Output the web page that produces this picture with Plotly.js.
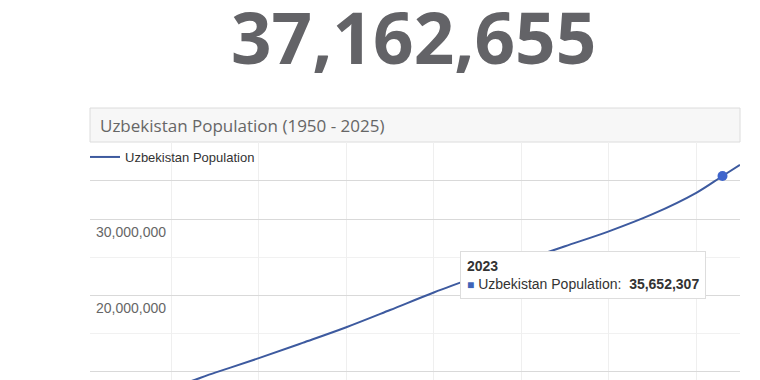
<!DOCTYPE html>
<html>
<head>
<meta charset="utf-8">
<script src="https://cdn.plot.ly/plotly-3.0.1.min.js"></script>
<style>
html,body{margin:0;padding:0;background:#fff;overflow:hidden;}
#wrap{width:760px;height:380px;overflow:hidden;position:relative;}
#chart{width:760px;height:420px;}
</style>
</head>
<body>
<div id="wrap"><div id="chart"></div></div>
<script>
// Data
const seriesName = "Uzbekistan Population";
const years = [1950, 1955, 1960, 1965, 1970, 1975, 1980, 1985, 1990, 1995, 2000, 2005, 2010, 2015, 2020, 2023, 2025];
const population = [6300000, 7100000, 8000000, 9900000, 11800000, 13800000, 15850000, 18100000, 20400000, 22500000, 24500000, 26450000, 28400000, 30650000, 33450000, 35652307, 37100000];
const highlightYear = [2023];
const highlightValue = [35652307];
const bigNumber = "37,162,655";
const chartTitle = "Uzbekistan Population (1950 - 2025)";
const yTickVals = [10000000, 20000000, 30000000, 35000000];
const yTickText = ["10,000,000", "20,000,000", "30,000,000", ""];
const yMinorVals = [15000000, 25000000];

const fmt = v => v.toLocaleString('en-US');

const traces = [
  {
    x: years, y: population, type: 'scatter', mode: 'lines', name: seriesName,
    line: {color: '#3d5a9f', width: 2, shape: 'spline', smoothing: 1},
    showlegend: true
  },
  {
    x: highlightYear, y: highlightValue, type: 'scatter', mode: 'markers',
    marker: {color: '#3e64cc', size: 10}, showlegend: false
  }
];

const layout = {
  width: 760, height: 420,
  margin: {l: 90, r: 20, t: 142, b: 0, pad: 0, autoexpand: false},
  paper_bgcolor: '#fff', plot_bgcolor: '#fff',
  font: {family: 'Liberation Sans, Arial, sans-serif', color: '#666', size: 13},
  title: {
    text: chartTitle, xref: 'container', yref: 'container',
    x: 100/760, xanchor: 'left', y: 1 - 126/420, yanchor: 'middle',
    font: {family: 'Open Sans, sans-serif', size: 17, color: '#666'}
  },
  xaxis: {
    range: [1950.7, 2025], tickmode: 'linear', tick0: 1960, dtick: 10,
    showticklabels: false, showgrid: true, gridcolor: '#efefef', gridwidth: 1,
    zeroline: false, showline: false, ticks: '', automargin: false
  },
  yaxis: {
    range: [3700000, 40100000], tickmode: 'array', tickvals: yTickVals, ticktext: yTickText,
    showgrid: true, gridcolor: '#d9d9d9', gridwidth: 1, zeroline: false, showline: false,
    ticklabelposition: 'inside', ticklabelshift: 13, ticklabelstandoff: 3,
    tickfont: {size: 14, color: '#666'}, ticks: '', automargin: false,
    minor: {tickmode: 'array', tickvals: yMinorVals, showgrid: true, gridcolor: '#f1f1f1', ticks: ''}
  },
  showlegend: true,
  legend: {
    xref: 'container', yref: 'container', x: 85/760, xanchor: 'left',
    y: 1 - 157/420, yanchor: 'middle', bgcolor: 'rgba(0,0,0,0)', borderwidth: 0,
    font: {size: 13, color: '#333'}
  },
  shapes: [
    {type: 'rect', xref: 'paper', yref: 'paper', x0: 0, x1: 1, y0: 1.0, y1: (420-108)/278,
     fillcolor: '#f7f7f7', line: {color: '#dcdcdc', width: 1}, layer: 'below'}
  ],
  annotations: [
    {text: '<b>' + bigNumber + '</b>', xref: 'paper', yref: 'paper',
     x: (413-90)/650, y: (420-37)/278, xanchor: 'center', yanchor: 'middle', showarrow: false,
     font: {family: 'Open Sans, sans-serif', size: 71, color: '#636367'}},
    {text: '<b>' + highlightYear[0] + '</b><br><span style="color:#3e64b8;font-size:12px">■</span> ' + seriesName + ':  <b>' + fmt(highlightValue[0]) + '</b>',
     xref: 'paper', yref: 'paper', x: (460-90)/650, y: (420-251)/278,
     xanchor: 'left', yanchor: 'top', align: 'left', showarrow: false,
     bgcolor: '#ffffff', bordercolor: '#dddddd', borderwidth: 1, borderpad: 6,
     font: {family: 'Liberation Sans, Arial, sans-serif', size: 14, color: '#333'}}
  ],
  hovermode: false
};

Plotly.newPlot('chart', traces, layout, {displayModeBar: false, staticPlot: true});
</script>
</body>
</html>
